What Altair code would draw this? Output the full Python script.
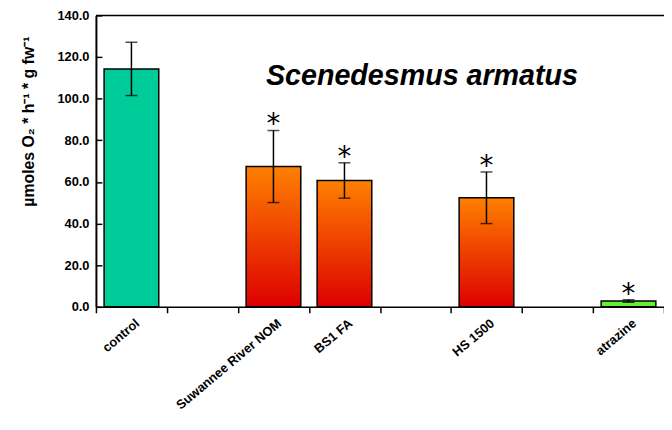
import altair as alt
import pandas as pd

# ---- data ----
categories = ["control", "gap1", "Suwannee River NOM", "BS1 FA", "gap2", "HS 1500", "gap3", "atrazine"]
treatments = ["control", "Suwannee River NOM", "BS1 FA", "HS 1500", "atrazine"]
means = [114.3, 67.4, 60.7, 52.4, 2.8]
errors = [12.8, 17.3, 8.5, 12.4, 0.6]
groups = ["control", "NOM", "NOM", "NOM", "atrazine"]
signif = ["", "*", "*", "*", "*"]
y_ticks = [0, 20, 40, 60, 80, 100, 120, 140]
title_text = "Scenedesmus armatus"
y_title = "µmoles O₂ * h⁻¹ * g fw⁻¹"

df = pd.DataFrame({"treatment": treatments, "mean": means, "err": errors,
                   "group": groups, "sig": signif})
df["lo"] = df["mean"] - df["err"]
df["hi"] = df["mean"] + df["err"]

W, H = 575, 295
FONT = "Liberation Sans"

x = alt.X("treatment:N",
          scale=alt.Scale(domain=categories, paddingInner=0, paddingOuter=0),
          axis=alt.Axis(title=None, labelAngle=-40, labelAlign="right", labelBaseline="top",
                        labelFontSize=13, labelFontWeight="bold", labelFont=FONT,
                        labelColor="black", labelPadding=4, labelOffset=2,
                        tickBand="extent", tickSize=6, tickColor="black", tickWidth=1.5,
                        domainColor="black", domainWidth=1.5,
                        labelExpr="(isString(datum.value) && indexof(datum.value, 'gap') == 0) ? '' : datum.label"))

y_axis = alt.Axis(values=y_ticks, format=".1f", title=y_title,
                  titleFontSize=16, titleFont=FONT, titleFontWeight="bold", titleColor="black",
                  titleAngle=270, titleX=-68, titleY=107, titleAlign="center", titleBaseline="middle",
                  labelFontSize=13, labelFontWeight="bold", labelFont=FONT, labelColor="black",
                  ticks=False, labelPadding=7,
                  grid=True, gridColor="black", gridWidth=1.5, gridDash=[6, 3000], gridOpacity=1,
                  domainColor="black", domainWidth=2)
y = alt.Y("mean:Q", scale=alt.Scale(domain=[0, 140], nice=False), axis=y_axis)

base = alt.Chart(df)
one_row = base.transform_filter(alt.datum.group == "control")
bw = alt.RelativeBandSize(0.77)

bars_ctrl = base.transform_filter(alt.datum.group == "control").mark_bar(
    color="#00CC99", stroke="black", strokeWidth=1.5, width=bw).encode(x=x, y=y)
grad = alt.Gradient(gradient="linear",
                    stops=[alt.GradientStop(color="#FF8000", offset=0),
                           alt.GradientStop(color="#DD0000", offset=1)],
                    x1=0, x2=0, y1=0, y2=1)
bars_nom = base.transform_filter(alt.datum.group == "NOM").mark_bar(
    color=grad, stroke="black", strokeWidth=1.5, width=bw).encode(x=x, y=y)
bars_atr = base.transform_filter(alt.datum.group == "atrazine").mark_bar(
    color="#66EE33", stroke="black", strokeWidth=1.5, width=bw).encode(x=x, y=y)

err_rule = base.mark_rule(color="black", strokeWidth=1.5).encode(
    x=x, y=alt.Y("lo:Q"), y2="hi:Q")
cap_hi = base.mark_tick(color="black", size=12, thickness=1.5).encode(x=x, y="hi:Q")
cap_lo = base.mark_tick(color="black", size=12, thickness=1.5).encode(x=x, y="lo:Q")
stars = base.mark_text(font="DejaVu Sans", fontSize=28, color="black", baseline="alphabetic",
                       align="center", dy=3).encode(x=x, y="hi:Q", text="sig:N")

title = one_row.mark_text(
    text=title_text, font=FONT, fontSize=29, fontStyle="italic", fontWeight="bold",
    color="black", align="center", baseline="alphabetic").encode(
    x=alt.value(330), y=alt.value(70))
top_line = one_row.mark_rule(color="black", strokeWidth=1.5).encode(y=alt.datum(140))

chart = alt.layer(bars_ctrl, bars_nom, bars_atr, err_rule, cap_hi, cap_lo, stars,
                  title, top_line).properties(
    width=W, height=H,
    autosize=alt.AutoSizeParams(type="none"),
    padding={"left": 89, "top": 5, "right": 0, "bottom": 108},
).configure_view(stroke=None)

chart.save("out.html", embed_options={"renderer": "svg", "actions": False})
